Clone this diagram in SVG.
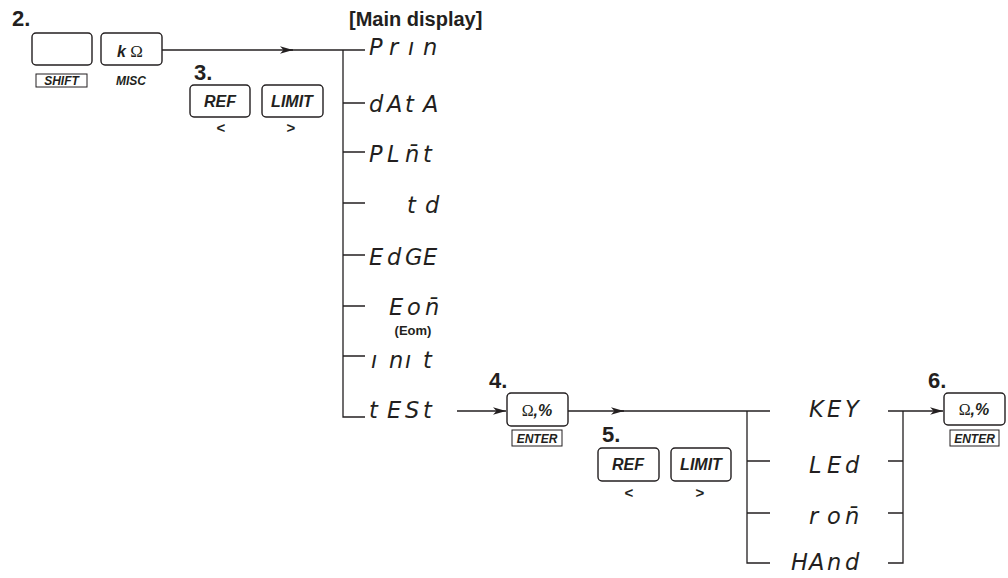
<svg xmlns="http://www.w3.org/2000/svg" width="1008" height="578" viewBox="0 0 1008 578">
<style>
.key{fill:#fff;stroke:#231f20;stroke-width:1.4}
.sub{fill:none;stroke:#231f20;stroke-width:1}
.ln{fill:none;stroke:#231f20;stroke-width:1.3}
.step{font-family:"Liberation Sans",Arial,sans-serif;font-weight:bold;font-size:22px;fill:#231f20}
.kt{font-family:"Liberation Sans",Arial,sans-serif;font-weight:bold;font-style:italic;font-size:16px;fill:#231f20;text-anchor:middle}
.st{font-family:"Liberation Sans",Arial,sans-serif;font-weight:bold;font-style:italic;font-size:12px;fill:#231f20;text-anchor:middle}
.om{font-family:"Liberation Serif","Times New Roman",serif;font-weight:normal;font-style:normal}
.chev{font-family:"Liberation Sans",Arial,sans-serif;font-weight:bold;font-size:15px;fill:#231f20;text-anchor:middle}
.seg{font-family:"DejaVu Sans",sans-serif;font-weight:200;font-style:italic;font-size:22.5px;fill:#231f20}
.hd{font-family:"Liberation Sans",Arial,sans-serif;font-weight:bold;font-size:20px;fill:#231f20}
.lbl{font-family:"Liberation Sans",Arial,sans-serif;font-weight:bold;font-size:13px;fill:#231f20;text-anchor:middle}
</style>
<defs>
<marker id="ah" markerUnits="userSpaceOnUse" markerWidth="14" markerHeight="9" refX="13" refY="4.5" orient="auto">
<path d="M0,0.8 L13,4.5 L0,8.2 L3.5,4.5 z" fill="#231f20"/>
</marker>
</defs>

<g id="connectors">
<path class="ln" d="M162,50 H293" marker-end="url(#ah)"/>
<path class="ln" d="M290,50 H365"/>
<path class="ln" d="M343,50 V417 H365"/>
<path class="ln" d="M343,103 H365 M343,152 H365 M343,203 H365 M343,255 H365 M343,306 H365 M343,356 H365"/>
<path class="ln" d="M457,411 H506" marker-end="url(#ah)"/>
<path class="ln" d="M568,411 H624" marker-end="url(#ah)"/>
<path class="ln" d="M621,411 H770"/>
<path class="ln" d="M747,411 V563 H770 M747,461 H770 M747,513 H770"/>
<path class="ln" d="M888,411 H943" marker-end="url(#ah)"/>
<path class="ln" d="M903,411 V563 H888 M903,461 H888 M903,513 H888"/>
</g>

<g id="step2">
<text class="step" x="12" y="26">2.</text>
<rect class="key" x="32" y="33" width="60" height="32" rx="4"/>
<rect class="sub" x="36" y="74" width="51" height="13"/>
<text class="st" x="61.5" y="85">SHIFT</text>
<rect class="key" x="101" y="33" width="61" height="32" rx="4"/>
<text class="kt" x="130" y="57">k <tspan class="om" font-size="17">Ω</tspan></text>
<text class="st" x="131" y="85">MISC</text>
</g>

<g id="step3">
<text class="step" x="194" y="80">3.</text>
<rect class="key" x="190" y="85" width="60" height="32" rx="4"/>
<text class="kt" x="220" y="107">REF</text>
<text class="chev" x="221" y="133">&lt;</text>
<rect class="key" x="262" y="85" width="61" height="32" rx="4"/>
<text class="kt" x="292" y="107">LIMIT</text>
<text class="chev" x="291" y="133">&gt;</text>
</g>

<g id="main-display">
<text class="hd" x="349" y="26">[Main display]</text>
</g>

<g id="menu">
<text class="seg" y="55"><tspan x="369">P</tspan><tspan x="389">r</tspan><tspan x="408">ı</tspan><tspan x="423">n</tspan></text>
<text class="seg" y="112"><tspan x="369">d</tspan><tspan x="387">A</tspan><tspan x="405">t</tspan><tspan x="423">A</tspan></text>
<text class="seg" y="162"><tspan x="369">P</tspan><tspan x="387">L</tspan><tspan x="405">n̄</tspan><tspan x="423">t</tspan></text>
<text class="seg" y="213"><tspan x="407">t</tspan><tspan x="425">d</tspan></text>
<text class="seg" y="265"><tspan x="369">E</tspan><tspan x="387">d</tspan><tspan x="405">G</tspan><tspan x="423">E</tspan></text>
<text class="seg" y="315"><tspan x="389">E</tspan><tspan x="407">o</tspan><tspan x="425">n̄</tspan></text>
<text class="lbl" x="413" y="335">(Eom)</text>
<text class="seg" y="368"><tspan x="371">ı</tspan><tspan x="389">n</tspan><tspan x="405">ı</tspan><tspan x="423">t</tspan></text>
<text class="seg" y="418"><tspan x="369">t</tspan><tspan x="387">E</tspan><tspan x="405">S</tspan><tspan x="423">t</tspan></text>
</g>

<g id="step4">
<text class="step" x="489" y="388">4.</text>
<rect class="key" x="507" y="393" width="61" height="33" rx="4"/>
<text class="kt" x="537" y="416"><tspan class="om">Ω</tspan>,%</text>
<rect class="sub" x="512" y="430" width="50" height="16"/>
<text class="st" x="537" y="443">ENTER</text>
</g>

<g id="step5">
<text class="step" x="602" y="442">5.</text>
<rect class="key" x="598" y="448" width="61" height="33" rx="4"/>
<text class="kt" x="628" y="470">REF</text>
<text class="chev" x="629" y="498">&lt;</text>
<rect class="key" x="671" y="448" width="60" height="33" rx="4"/>
<text class="kt" x="701" y="470">LIMIT</text>
<text class="chev" x="700" y="498">&gt;</text>
</g>

<g id="test-menu">
<text class="seg" y="417"><tspan x="809">K</tspan><tspan x="827">E</tspan><tspan x="845">Y</tspan></text>
<text class="seg" y="473"><tspan x="809">L</tspan><tspan x="827">E</tspan><tspan x="845">d</tspan></text>
<text class="seg" y="524"><tspan x="809">r</tspan><tspan x="827">o</tspan><tspan x="845">n̄</tspan></text>
<text class="seg" y="570"><tspan x="791">H</tspan><tspan x="809">A</tspan><tspan x="827">n</tspan><tspan x="845">d</tspan></text>
</g>

<g id="step6">
<text class="step" x="928" y="388">6.</text>
<rect class="key" x="944" y="393" width="61" height="32" rx="4"/>
<text class="kt" x="974" y="415"><tspan class="om">Ω</tspan>,%</text>
<rect class="sub" x="950" y="430" width="49" height="16"/>
<text class="st" x="974.5" y="443">ENTER</text>
</g>
</svg>
